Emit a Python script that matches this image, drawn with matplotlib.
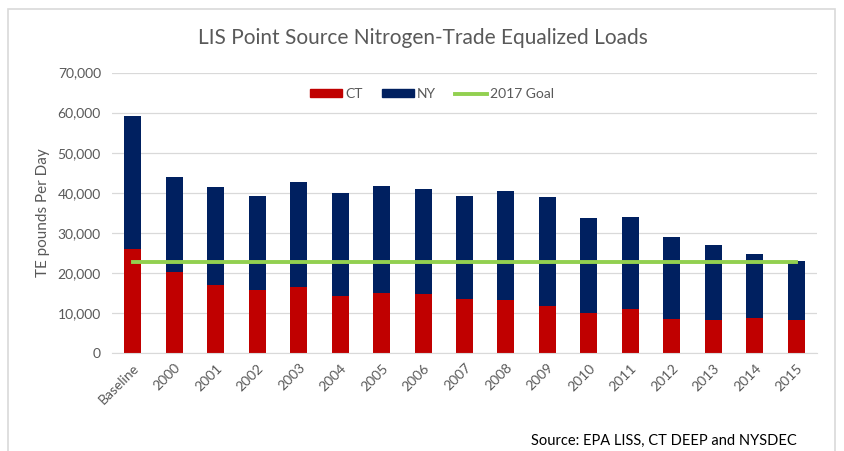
import matplotlib.pyplot as plt
import matplotlib.patches as mpatches
from matplotlib.lines import Line2D
from matplotlib.ticker import FuncFormatter

# values (pounds per day)
years = ["Baseline", "2000", "2001", "2002", "2003", "2004", "2005", "2006", "2007",
         "2008", "2009", "2010", "2011", "2012", "2013", "2014", "2015"]
ct = [26000, 20300, 17000, 15900, 16500, 14400, 15000, 14900, 13500,
      13400, 11800, 10000, 11000, 8600, 8400, 8900, 8400]
ny = [33200, 23700, 24400, 23200, 26100, 25600, 26700, 26100, 25600,
      27000, 27200, 23700, 22900, 20300, 18700, 15900, 14500]
goal_2017 = 22800

plt.rcParams['font.family'] = ['Lato', 'DejaVu Sans']
grey = '#595959'
red = '#C00000'
navy = '#002060'
green = '#92D050'

fig = plt.figure(figsize=(8.44, 4.51), dpi=100)
ax = fig.add_axes([112/844, 1 - 353.3/451, 705/844, 280.8/451])

x = list(range(len(years)))
ax.bar(x, ct, width=0.41, color=red, linewidth=0, zorder=2, label='CT')
ax.bar(x, ny, width=0.41, bottom=ct, color=navy, linewidth=0, zorder=2, label='NY')
ax.plot(x, [goal_2017] * len(x), color=green, linewidth=2.8, zorder=3, label='2017 Goal')

ax.set_xlim(-0.5, len(years) - 0.5)
ax.set_ylim(0, 70000)
ax.set_yticks(range(0, 70001, 10000))
ax.yaxis.set_major_formatter(FuncFormatter(lambda v, p: f"{int(v):,}"))
ax.set_xticks(x)
ax.set_xticklabels(years, rotation=45, ha='right', rotation_mode='anchor')
ax.tick_params(axis='both', length=0, colors=grey, labelsize=10)
ax.tick_params(axis='y', pad=8)
ax.tick_params(axis='x', pad=6)
ax.grid(axis='y', color='#D9D9D9', linewidth=0.9, zorder=0)
for s in ['top', 'right', 'left']:
    ax.spines[s].set_visible(False)
ax.spines['bottom'].set_color('#D9D9D9')

fig.text(43/844, 1 - 213/451, "TE pounds Per Day", rotation=90, ha='center', va='center',
         color=grey, fontsize=11)
fig.text(423/844, 1 - 38/451, "LIS Point Source Nitrogen-Trade Equalized Loads",
         ha='center', va='center', color=grey, fontsize=15)

handles = [mpatches.Patch(color=red, label='CT'),
           mpatches.Patch(color=navy, label='NY'),
           Line2D([0], [0], color=green, linewidth=2.8, label='2017 Goal')]
fig.legend(handles=handles, loc='center', bbox_to_anchor=(432/844, 1 - 94/451), ncol=3,
           frameon=False, fontsize=10, labelcolor=grey, handlelength=2.3, handleheight=0.5,
           handletextpad=0.2, columnspacing=1.4)

fig.text(797/844, 1 - 441/451, "Source: EPA LISS, CT DEEP and NYSDEC", ha='right',
         va='center', color='black', fontsize=10.5)

# chart frame
fig.patches.append(mpatches.Rectangle((8/844, -0.1), 827/844, 1.1 - 9/451,
                                      transform=fig.transFigure, fill=False,
                                      edgecolor='#D9D9D9', linewidth=1.2))

plt.savefig("out.png", dpi=100)
